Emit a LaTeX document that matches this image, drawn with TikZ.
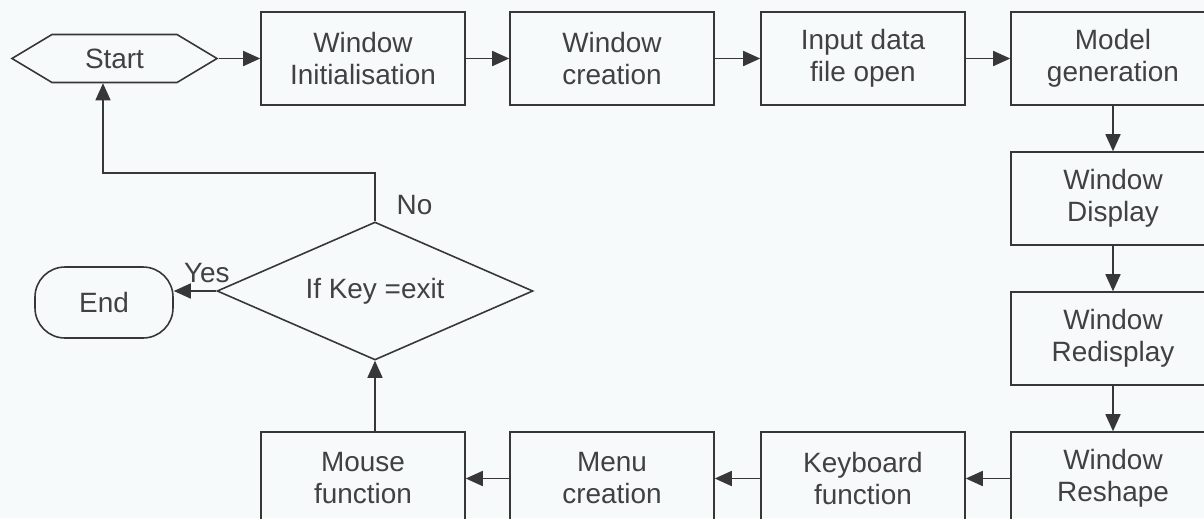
\documentclass[tikz,border=0pt]{standalone}
\usepackage{xcolor}
\usepackage{fontspec}
\setmainfont{Liberation Sans}
\usepackage{tikz}
\usetikzlibrary{arrows.meta,shapes,positioning}
\definecolor{linegray}{RGB}{55,55,55}
\definecolor{textgray}{RGB}{65,65,65}
\definecolor{paper}{RGB}{246,250,250}

\begin{document}
\begin{tikzpicture}[x=0.02cm, y=-0.02cm,
    every node/.style={text=textgray, font=\fontsize{15.9}{18.2}\selectfont},
    stepbox/.style={draw=linegray, line width=0.9pt, minimum width=4.08cm, minimum height=1.86cm, align=center, inner sep=0pt},
    start/.style={shape=signal, signal to=west and east, signal pointer angle=62, draw=linegray, line width=0.9pt, minimum width=4.1cm, minimum height=0.96cm, inner sep=0pt},
    decision/.style={diamond, aspect=2.3, draw=linegray, line width=0.9pt, minimum width=6.32cm, minimum height=2.76cm, inner sep=0pt},
    finish/.style={rectangle, rounded corners=0.6cm, draw=linegray, line width=0.9pt, minimum width=2.76cm, minimum height=1.42cm},
    arr/.style={-{Triangle[length=0.34cm,width=0.3cm]}, draw=linegray, line width=0.9pt}]
            % Page
            \useasboundingbox (0,0) rectangle (1204,518);
            \fill[paper] (0,0) rectangle (1204,518);
            \clip (0,0) rectangle (1204,518);

            % Top row
            \node[start] (start) at (114.5,58.5) {Start};
            \node[stepbox] (init) at (363,58.5) {Window\\Initialisation};
            \node[stepbox] (create) at (612,58.5) {Window\\creation};
            \node[stepbox] (input) at (863,58.5) {Input data\\file open};
            \node[stepbox] (model) at (1113,58.5) {Model\\generation};

            % Right column
            \node[stepbox] (display) at (1113,198.5) {Window\\Display};
            \node[stepbox] (redisplay) at (1113,338.5) {Window\\Redisplay};
            \node[stepbox] (reshape) at (1113,478.5) {Window\\Reshape};

            % Bottom row
            \node[stepbox] (keyboard) at (863,478.5) {Keyboard\\function};
            \node[stepbox] (menu) at (612,478.5) {Menu\\creation};
            \node[stepbox] (mouse) at (363,478.5) {Mouse\\function};

            % Decision and end
            \node[decision] (exitkey) at (375,291) {If Key =exit};
            \node[finish] (finish) at (104,302.5) {End};
            \coordinate (back) at (103,173);

            % Arrows
            \foreach \a/\b in {start/init, init/create, create/input, input/model} {
                \draw[arr] (\a.east) -- (\b.west);
            }
            \foreach \a/\b in {model/display, display/redisplay, redisplay/reshape} {
                \draw[arr] (\a.south) -- (\b.north);
            }
            \foreach \a/\b in {reshape/keyboard, keyboard/menu, menu/mouse} {
                \draw[arr] (\a.west) -- (\b.east);
            }
            \draw[arr] (exitkey.south |- mouse.north) -- (exitkey.south);
            \draw[arr] (exitkey.west) -- (exitkey.west -| finish.east) node[pos=0.22, above, inner sep=4pt] {Yes};
            \draw[arr] (exitkey.north) |- (back) node[pos=0.17, right=0.3cm] {No} -- (back |- start.south);
\end{tikzpicture}
\end{document}
